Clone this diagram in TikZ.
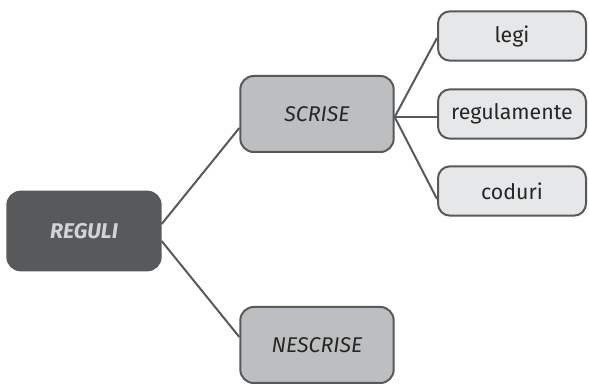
\documentclass[tikz,border=0pt]{standalone}
\usepackage{fontspec}
\setmainfont{Fira Sans}
\usepackage{xcolor}
\usepackage{tikz}
\usetikzlibrary{calc}

\definecolor{darkgr}{HTML}{58595B}
\definecolor{midgr}{HTML}{BCBEC0}
\definecolor{lightgr}{HTML}{E6E7E8}
\definecolor{txtgr}{HTML}{D1D3D4}

\begin{document}
\begin{tikzpicture}[
    x=0.75pt, y=-0.75pt,
    root/.style={rectangle, draw=darkgr, fill=darkgr, line width=1.5pt, rounded corners=10pt, align=center, minimum width=115pt, minimum height=59pt, text=txtgr, font=\fontsize{16}{19}\selectfont\bfseries\itshape},
    mid/.style={rectangle, draw=darkgr, fill=midgr, line width=1.5pt, rounded corners=10pt, align=center, minimum width=115pt, minimum height=57pt, text=black!85, font=\fontsize{16}{19}\selectfont\itshape},
    leaf/.style={rectangle, draw=darkgr, fill=lightgr, line width=1.5pt, rounded corners=9pt, align=center, minimum width=111pt, minimum height=37pt, text=black!85, font=\fontsize{16}{19}\selectfont},
    link/.style={line width=1.5pt, draw=darkgr}
]
    \useasboundingbox (0,0) rectangle (589,384);

    \node [root] (reguli) at (84,231) {REGULI};
    \node [mid] (scrise) at (317,114) {SCRISE};
    \node [mid] (nescrise) at (317,345) {NESCRISE};
    \node [leaf] (legi) at (512,36) {legi};
    \node [leaf] (regul) at (512,114) {regulamente};
    \node [leaf] (coduri) at (512,191) {coduri};

    \draw [link] ($(reguli.east)+(0,-7)$) -- ($(scrise.west)+(0,14)$);
    \draw [link] ($(reguli.east)+(0,10)$) -- ($(nescrise.west)+(0,-8)$);
    \draw [link] ($(scrise.east)+(0,3)$) -- ($(legi.west)+(0,2)$);
    \draw [link] ($(scrise.east)+(0,3)$) -- ($(regul.west)+(0,3)$);
    \draw [link] ($(scrise.east)+(0,3)$) -- ($(coduri.west)+(0,8)$);
\end{tikzpicture}
\end{document}
